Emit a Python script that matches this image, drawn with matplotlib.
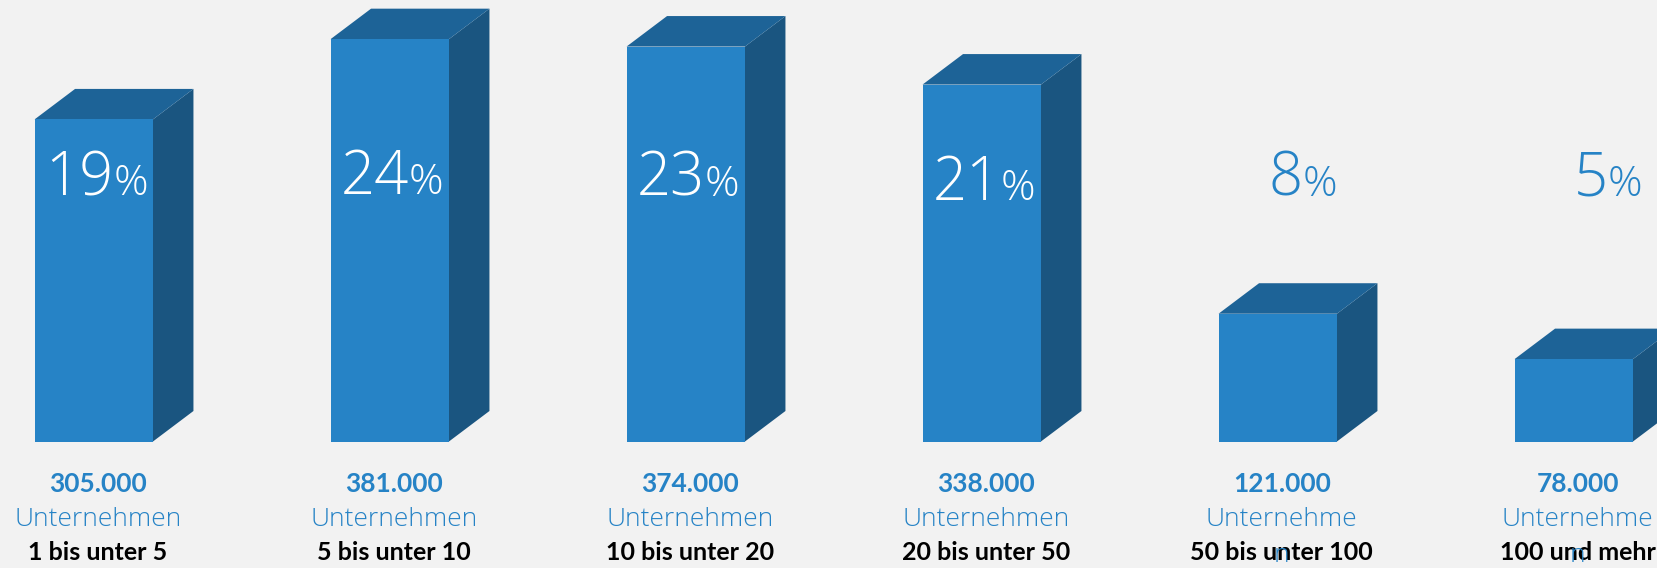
import matplotlib
matplotlib.use('Agg')
import matplotlib.pyplot as plt
from matplotlib.patches import Polygon

# ── Data ──
categories = ['1 bis unter 5', '5 bis unter 10', '10 bis unter 20',
              '20 bis unter 50', '50 bis unter 100', '100 und mehr']
companies_k = [305, 381, 374, 338, 121, 78]      # Unternehmen in Tausend
shares = [19, 24, 23, 21, 8, 5]                   # Anteil in %
unit_labels = ['Unternehmen'] * 4 + ['Unternehme\nn'] * 2

# ── Style ──
BG = '#f2f2f2'
FRONT = '#2683c6'
TOP = '#1d6397'
SIDE = '#1a5580'
BLUE = '#2683c6'
FONT = 'Lato'
LIGHT_FONT = 'Open Sans'

W = 1658
H = 568
PX_PER_BAR = 296.0       # horizontal spacing between bars (px)
PX_PER_K = 1.056         # px per 1000 companies
BASE_PX = 441.5          # baseline, px from top
X0_PX = 93.75            # centre of first front face
BAR_W = 0.40             # width of front face in bar units
DEPTH_X = 40.5           # 3d depth offset in px
DEPTH_Y = 30.5

fig = plt.figure(figsize=(W / 100, H / 100), dpi=100, facecolor=BG)
ax = fig.add_axes([0, 0, 1, 1])
ax.set_facecolor(BG)
ax.axis('off')
ax.set_xlim(-X0_PX / PX_PER_BAR, (W - X0_PX) / PX_PER_BAR)
ax.set_ylim(-(H - BASE_PX) / PX_PER_K, BASE_PX / PX_PER_K)

dx = DEPTH_X / PX_PER_BAR
dy = DEPTH_Y / PX_PER_K

# ── 3D bars ──
for i, v in enumerate(companies_k):
    l, r = i - BAR_W / 2, i + BAR_W / 2
    front = [(l, 0), (r, 0), (r, v), (l, v)]
    top = [(l, v), (r, v), (r + dx, v + dy), (l + dx, v + dy)]
    side = [(r, 0), (r + dx, dy), (r + dx, v + dy), (r, v)]
    ax.add_patch(Polygon(side, closed=True, facecolor=SIDE, edgecolor='none'))
    ax.add_patch(Polygon(top, closed=True, facecolor=TOP, edgecolor='none'))
    ax.add_patch(Polygon(front, closed=True, facecolor=FRONT, edgecolor='none'))

# ── percentage labels (big number + smaller %) ──
fig.canvas.draw()
renderer = fig.canvas.get_renderer()

pct_dx = [3, 2, 2, 2, 25, 34]              # horizontal nudge, px
pct_base = [195, 194, 196, 200, 196, 196]   # baseline, px from top

for i, s in enumerate(shares):
    inside = s >= 10
    color = 'white' if inside else BLUE
    base = BASE_PX - pct_base[i]
    t_num = ax.annotate(str(s), xy=(i, 0), xytext=(0, base), textcoords='offset pixels',
                        fontsize=43, family=LIGHT_FONT, fontweight='light', color=color,
                        ha='left', va='baseline')
    t_pct = ax.annotate('%', xy=(i, 0), xytext=(0, base), textcoords='offset pixels',
                        fontsize=31, family=LIGHT_FONT, fontweight='light', color=color,
                        ha='left', va='baseline')
    w1 = t_num.get_window_extent(renderer).width
    w2 = t_pct.get_window_extent(renderer).width
    start = pct_dx[i] - (w1 + w2) / 2
    t_num.set_position((start, base))
    t_pct.set_position((start + w1, base))

# ── labels under the bars ──
for i, (c, cat, unit) in enumerate(zip(companies_k, categories, unit_labels)):
    ax.annotate(f'{c}.000', xy=(i, 0), xytext=(4, BASE_PX - 491.5), textcoords='offset pixels',
                fontsize=19, family=FONT, fontweight='bold', color=BLUE,
                ha='center', va='baseline')
    ax.annotate(cat, xy=(i, 0), xytext=(4, BASE_PX - 560.5), textcoords='offset pixels',
                fontsize=18, family=FONT, fontweight='bold', color='black',
                ha='center', va='baseline', zorder=3)
    # the word wraps on the narrow columns, one line every 36 px (drawn over the category)
    for k, line in enumerate(unit.split('\n')):
        ax.annotate(line, xy=(i, 0), xytext=(4, BASE_PX - 525.5 - 36 * k),
                    textcoords='offset pixels',
                    fontsize=19, family=LIGHT_FONT, fontweight='light', color=BLUE,
                    ha='center', va='baseline', zorder=4)

plt.savefig('out.png', dpi=100, facecolor=BG)
plt.close()
